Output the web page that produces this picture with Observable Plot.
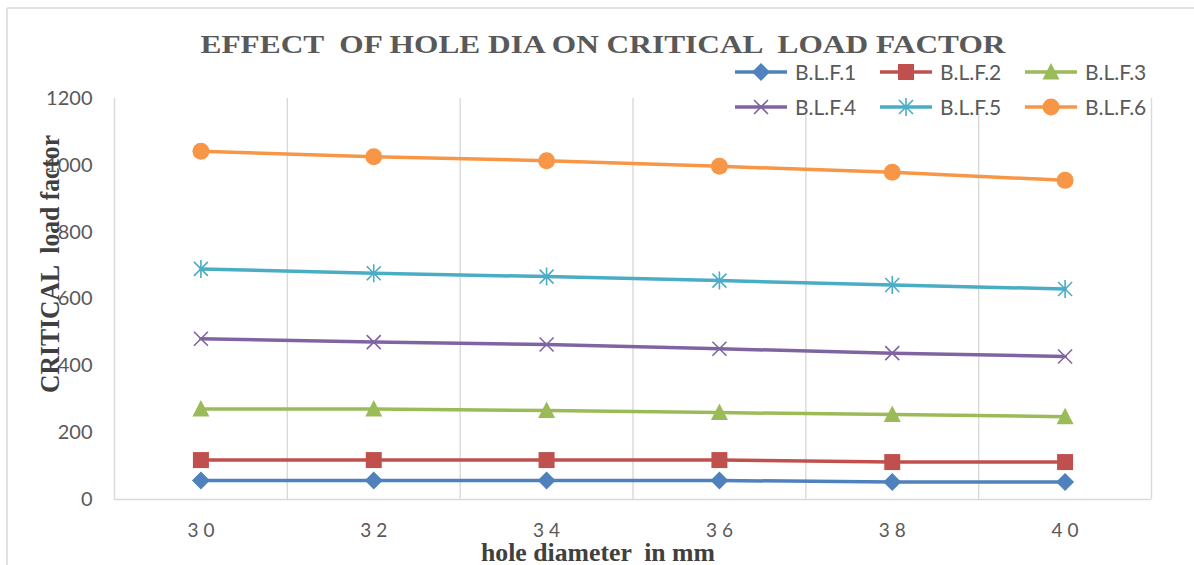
<!DOCTYPE html>
<html>
<head>
<meta charset="utf-8">
<script src="https://cdn.jsdelivr.net/npm/d3@7"></script>
<script src="https://cdn.jsdelivr.net/npm/@observablehq/plot@0.6"></script>
<style>
  html, body { margin: 0; padding: 0; background: #fff; }
  #wrap { position: relative; width: 1194px; height: 565px; overflow: hidden; }
  #wrap > svg { position: absolute; left: 0; top: 0; }
  #overlay { pointer-events: none; }
  g[aria-label="x-axis tick label"] text { letter-spacing: 5px; font-size: 19px; }
  g[aria-label="y-axis tick label"] text { font-size: 20px; }
</style>
</head>
<body>
<div id="wrap"></div>
<script>
// ---- data ----
const diameters = [30, 32, 34, 36, 38, 40];
const seriesNames = ["B.L.F.1", "B.L.F.2", "B.L.F.3", "B.L.F.4", "B.L.F.5", "B.L.F.6"];
const blf1 = [57, 57, 57, 57, 52, 52];
const blf2 = [118, 118, 118, 118, 112, 112];
const blf3 = [271, 271, 266, 260, 254, 248];
const blf4 = [481, 471, 464, 451, 438, 428];
const blf5 = [690, 677, 667, 655, 642, 630];
const blf6 = [1042, 1026, 1014, 997, 979, 955];
const yTicks = [0, 200, 400, 600, 800, 1000, 1200];
const titleText = "EFFECT  OF HOLE DIA ON CRITICAL  LOAD FACTOR";
const xLabel = "hole diameter  in mm";
const yLabel = "CRITICAL  load factor";

const seriesValues = [blf1, blf2, blf3, blf4, blf5, blf6];
const colors = ["#4F81BD", "#C0504D", "#9BBB59", "#8064A2", "#4BACC6", "#F79646"];

// ---- marker shapes ----
const symDiamond = {draw(c) { const s = 9; c.moveTo(0, -s); c.lineTo(s, 0); c.lineTo(0, s); c.lineTo(-s, 0); c.closePath(); }};
const symSquare = {draw(c) { const s = 8; c.moveTo(-s, -s); c.lineTo(s, -s); c.lineTo(s, s); c.lineTo(-s, s); c.closePath(); }};
const symTriangle = {draw(c) { c.moveTo(0, -9); c.lineTo(8.5, 7.5); c.lineTo(-8.5, 7.5); c.closePath(); }};
const symTimes = {draw(c) { const s = 7; c.moveTo(-s, -s); c.lineTo(s, s); c.moveTo(-s, s); c.lineTo(s, -s); }};
const symStar = {draw(c) { const s = 7; c.moveTo(-s, -s); c.lineTo(s, s); c.moveTo(-s, s); c.lineTo(s, -s); c.moveTo(0, -9); c.lineTo(0, 9); }};
const symCircle = {draw(c) { const r = 8.5; c.moveTo(r, 0); c.arc(0, 0, r, 0, 2 * Math.PI); c.closePath(); }};
const symbols = [symDiamond, symSquare, symTriangle, symTimes, symStar, symCircle];
const filled = [true, true, true, false, false, true];

const rows = [];
seriesNames.forEach((name, i) => {
  diameters.forEach((d, j) => rows.push({series: name, idx: i, x: d, y: seriesValues[i][j]}));
});

const gridX = diameters.map(d => d - 1).concat([diameters[diameters.length - 1] + 1]);

const marks = [
  Plot.ruleX(gridX, {stroke: "#D9D9D9", strokeWidth: 1.4}),
  Plot.ruleY([0], {stroke: "#D9D9D9", strokeWidth: 1.6})
];
seriesNames.forEach((name, i) => {
  const data = rows.filter(r => r.idx === i);
  marks.push(Plot.line(data, {x: "x", y: "y", stroke: colors[i], strokeWidth: 3.5, strokeLinejoin: "round", strokeLinecap: "round"}));
  marks.push(Plot.dot(data, {
    x: "x", y: "y", r: 8, symbol: symbols[i],
    fill: filled[i] ? colors[i] : "none",
    stroke: filled[i] ? "none" : colors[i],
    strokeWidth: filled[i] ? 0 : 1.6
  }));
});

const chart = Plot.plot({
  width: 1194,
  height: 565,
  marginLeft: 114,
  marginRight: 43,
  marginTop: 98,
  marginBottom: 66,
  style: {fontFamily: "Lato, 'Open Sans', sans-serif", fontSize: "20px", color: "#595959", background: "transparent", overflow: "visible"},
  x: {type: "linear", domain: [29, 41], label: null},
  y: {domain: [0, 1200], label: null},
  marks: [
    ...marks,
    Plot.axisX({ticks: diameters, tickSize: 0, tickPadding: 24, tickFormat: d => String(d), label: null, dx: 2.5}),
    Plot.axisY({ticks: yTicks, tickSize: 0, tickPadding: 22, tickFormat: d => String(d), label: null})
  ]
});

const wrap = document.getElementById("wrap");
wrap.appendChild(chart);

// ---- overlay: frame, title, axis titles, legend ----
const ov = d3.select(wrap).append("svg")
  .attr("id", "overlay")
  .attr("width", 1194).attr("height", 565);

// chart frame (top and left borders)
ov.append("line").attr("x1", 7).attr("x2", 1194).attr("y1", 8).attr("y2", 8).attr("stroke", "#D9D9D9").attr("stroke-width", 1.5);
ov.append("line").attr("x1", 7).attr("x2", 7).attr("y1", 8).attr("y2", 565).attr("stroke", "#D9D9D9").attr("stroke-width", 1.5);

// title
ov.append("text")
  .attr("x", 603).attr("y", 53)
  .attr("text-anchor", "middle")
  .attr("textLength", 805).attr("lengthAdjust", "spacingAndGlyphs")
  .style("white-space", "pre")
  .attr("font-family", "'Liberation Serif', 'DejaVu Serif', serif")
  .attr("font-weight", "bold").attr("font-size", 26)
  .attr("fill", "#595959")
  .text(titleText);

// x axis title
ov.append("text")
  .attr("x", 598).attr("y", 561)
  .attr("text-anchor", "middle")
  .attr("textLength", 234).attr("lengthAdjust", "spacingAndGlyphs")
  .style("white-space", "pre")
  .attr("font-family", "'Liberation Serif', 'DejaVu Serif', serif")
  .attr("font-weight", "bold").attr("font-size", 25)
  .attr("fill", "#404040")
  .text(xLabel);

// y axis title
ov.append("text")
  .attr("transform", "translate(59,264) rotate(-90)")
  .attr("text-anchor", "middle")
  .attr("textLength", 258).attr("lengthAdjust", "spacingAndGlyphs")
  .style("white-space", "pre")
  .attr("font-family", "'Liberation Serif', 'DejaVu Serif', serif")
  .attr("font-weight", "bold").attr("font-size", 28)
  .attr("fill", "#404040")
  .text(yLabel);

// legend
ov.append("rect").attr("x", 727).attr("y", 56).attr("width", 422).attr("height", 57).attr("fill", "#fff");
const legX = [735, 880, 1025];
const legY = [72, 107];
seriesNames.forEach((name, i) => {
  const x0 = legX[i % 3], y0 = legY[Math.floor(i / 3)];
  const g = ov.append("g").attr("transform", `translate(${x0},${y0})`);
  g.append("line").attr("x1", 0).attr("x2", 52).attr("y1", 0).attr("y2", 0)
    .attr("stroke", colors[i]).attr("stroke-width", 3.5);
  const p = d3.path();
  symbols[i].draw(p);
  g.append("path").attr("transform", "translate(26,0)").attr("d", p.toString())
    .attr("fill", filled[i] ? colors[i] : "none")
    .attr("stroke", filled[i] ? "none" : colors[i])
    .attr("stroke-width", 1.6);
  g.append("text").attr("x", 60).attr("y", 0).attr("dy", "0.36em")
    .attr("font-family", "Lato, 'Open Sans', sans-serif").attr("font-size", 21)
    .attr("fill", "#595959")
    .text(name);
});
</script>
</body>
</html>
